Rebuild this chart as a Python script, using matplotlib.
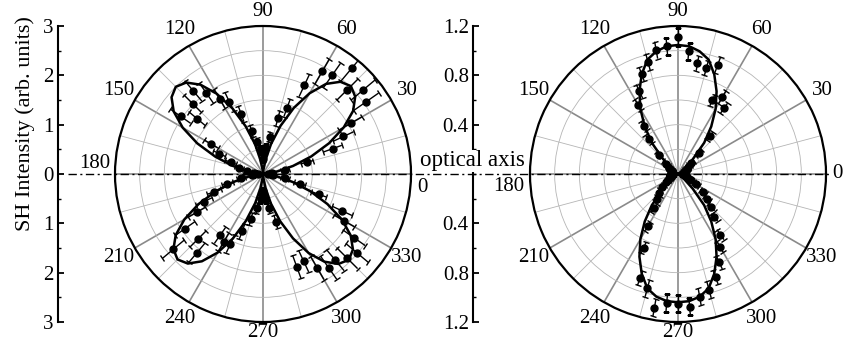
import numpy as np
import matplotlib
matplotlib.use("Agg")
import matplotlib.pyplot as plt
from matplotlib.lines import Line2D
from matplotlib.ticker import FixedLocator, FuncFormatter

plt.rcParams['font.family'] = ['Liberation Serif', 'DejaVu Serif']

# measured angles (deg), every 5 degrees
angles = np.arange(0, 360, 5)

# left panel: four-lobe pattern
left_r = [0.10, 0.18, 0.45, 0.92, 1.50, 1.80, 2.05, 2.55, 2.65, 2.42, 2.80, 2.44,
          2.40, 1.98, 1.43, 1.17, 0.76, 0.52, 0.30, 0.48, 0.65, 0.90, 1.30, 1.62,
          1.76, 2.00, 2.20, 2.02, 1.75, 2.04, 1.22, 0.98, 0.70, 0.50, 0.32, 0.18,
          0.10, 0.22, 0.45, 0.75, 1.05, 1.32, 1.55, 1.93, 2.37, 1.86, 2.08, 1.52,
          1.60, 1.56, 1.24, 0.95, 0.70, 0.50, 0.35, 0.50, 0.70, 1.00, 2.00, 1.95,
          2.20, 2.32, 2.28, 2.41, 2.49, 2.25, 1.90, 1.77, 1.20, 0.77, 0.45, 0.20]
left_err = [0.04, 0.05, 0.08, 0.13, 0.20, 0.23, 0.26, 0.31, 0.32, 0.30, 0.34, 0.30,
            0.29, 0.25, 0.19, 0.16, 0.11, 0.09, 0.06, 0.08, 0.10, 0.13, 0.17, 0.21,
            0.22, 0.25, 0.27, 0.25, 0.22, 0.25, 0.16, 0.14, 0.11, 0.09, 0.07, 0.05,
            0.04, 0.05, 0.08, 0.11, 0.15, 0.18, 0.20, 0.24, 0.29, 0.23, 0.26, 0.20,
            0.21, 0.20, 0.17, 0.13, 0.11, 0.09, 0.07, 0.09, 0.11, 0.14, 0.25, 0.24,
            0.27, 0.29, 0.28, 0.30, 0.30, 0.28, 0.24, 0.22, 0.16, 0.11, 0.08, 0.05]

# fitted curve, 0..360 deg every 5 deg
fit_angles = np.arange(0, 365, 5)
left_fit = [0.00, 0.08, 0.29, 0.63, 1.04, 1.48, 1.89, 2.23, 2.44, 2.52, 2.44, 2.23,
            1.89, 1.48, 1.04, 0.63, 0.29, 0.08,
            0.00, 0.08, 0.29, 0.63, 1.03, 1.47, 1.88, 2.21, 2.42, 2.50, 2.42, 2.21,
            1.88, 1.47, 1.03, 0.63, 0.29, 0.08,
            0.00, 0.07, 0.29, 0.61, 1.01, 1.44, 1.84, 2.16, 2.37, 2.45, 2.37, 2.16,
            1.84, 1.44, 1.01, 0.61, 0.29, 0.07,
            0.00, 0.07, 0.29, 0.62, 1.02, 1.44, 1.85, 2.17, 2.38, 2.46, 2.38, 2.17,
            1.85, 1.44, 1.02, 0.62, 0.29, 0.07, 0.00]

# right panel: two-lobe pattern
right_r = [0.05, 0.04, 0.06, 0.05, 0.07, 0.06, 0.08, 0.10, 0.14, 0.24, 0.40, 0.65,
           0.72, 0.66, 0.94, 0.89, 0.91, 1.00, 1.11, 1.04, 1.02, 0.94, 0.86, 0.74,
           0.65, 0.48, 0.37, 0.22, 0.13, 0.09, 0.07, 0.05, 0.06, 0.05, 0.06, 0.04,
           0.05, 0.06, 0.05, 0.07, 0.06, 0.08, 0.09, 0.12, 0.17, 0.22, 0.26, 0.34,
           0.49, 0.66, 0.90, 0.96, 1.10, 1.05, 1.05, 1.08, 1.01, 0.97, 0.89, 0.79,
           0.68, 0.60, 0.46, 0.38, 0.31, 0.25, 0.17, 0.12, 0.09, 0.07, 0.06, 0.05]
right_err = [0.02, 0.02, 0.02, 0.02, 0.02, 0.02, 0.02, 0.03, 0.03, 0.03, 0.04, 0.05,
             0.06, 0.05, 0.07, 0.06, 0.06, 0.07, 0.07, 0.07, 0.07, 0.07, 0.06, 0.06,
             0.05, 0.04, 0.04, 0.03, 0.03, 0.02, 0.02, 0.02, 0.02, 0.02, 0.02, 0.02,
             0.02, 0.02, 0.02, 0.02, 0.02, 0.02, 0.02, 0.03, 0.03, 0.03, 0.03, 0.04,
             0.04, 0.05, 0.06, 0.07, 0.07, 0.07, 0.07, 0.07, 0.07, 0.07, 0.06, 0.06,
             0.05, 0.05, 0.04, 0.04, 0.03, 0.03, 0.03, 0.03, 0.02, 0.02, 0.02, 0.02]
right_fit = [0.00, 0.00, 0.00, 0.00, 0.00, 0.00, 0.00, 0.02, 0.07, 0.17, 0.33, 0.47,
             0.61, 0.74, 0.86, 0.96, 1.01, 1.04, 1.046, 1.04, 1.01, 0.96, 0.86, 0.74,
             0.61, 0.47, 0.33, 0.17, 0.07, 0.02, 0.00, 0.00, 0.00, 0.00, 0.00, 0.00,
             0.00, 0.00, 0.00, 0.00, 0.00, 0.00, 0.00, 0.02, 0.07, 0.17, 0.33, 0.47,
             0.61, 0.74, 0.86, 0.96, 1.01, 1.035, 1.04, 1.035, 1.01, 0.96, 0.86, 0.74,
             0.61, 0.47, 0.33, 0.17, 0.07, 0.02, 0.00, 0.00, 0.00, 0.00, 0.00, 0.00, 0.00]

W, H = 846, 344
FS = 15


def polar_panel(fig, x0, rmax, rstep, r, err, fit, lbl0, lbl180):
    ax = fig.add_axes([x0 / W, 22 / H, 296 / W, 296 / H], projection='polar')
    ax.set_ylim(0, rmax)
    ax.set_yticks(np.arange(rstep, rmax - 1e-6, rstep))
    ax.set_yticklabels([])
    ax.set_xticks(np.deg2rad(np.arange(0, 360, 30)))
    ax.set_xticks(np.deg2rad(np.arange(15, 360, 30)), minor=True)
    ax.set_xticklabels([])
    ax.tick_params(axis='both', which='both', length=0)
    ax.xaxis.grid(True, which='major', color='#8a8a8a', lw=1.2)
    ax.xaxis.grid(True, which='minor', color='#b5b5b5', lw=0.6)
    ax.yaxis.grid(True, color='#b5b5b5', lw=0.6)
    ax.spines['polar'].set_linewidth(1.6)

    ax.errorbar(np.deg2rad(angles), r, yerr=err, fmt='o', color='k', ms=5,
                elinewidth=1, capsize=2.5, capthick=1, zorder=3)
    ax.plot(np.deg2rad(fit_angles), fit, color='k', lw=1.8, zorder=4)

    # angle labels
    for a in range(30, 360, 30):
        if a == 180:
            continue
        d = {90: 0.548, 270: 0.535}.get(a, 0.562)
        ax.text(0.5 + d * np.cos(np.deg2rad(a)), 0.5 + d * np.sin(np.deg2rad(a)),
                str(a), transform=ax.transAxes, ha='center', va='center', fontsize=FS)
    ax.text(lbl0[0], lbl0[1], '0', transform=ax.transAxes, ha='center', va='center', fontsize=FS)
    ax.text(lbl180[0], lbl180[1], '180', transform=ax.transAxes, ha='center', va='center', fontsize=FS)
    return ax


def scale_axis(fig, x, rmax, major, minor, fmt):
    sax = fig.add_axes([x / W, 22 / H, 0.02, 296 / H])
    sax.patch.set_visible(False)
    for s in ['top', 'right', 'bottom']:
        sax.spines[s].set_visible(False)
    sax.spines['left'].set_linewidth(1.5)
    sax.set_xticks([])
    sax.set_ylim(-rmax, rmax)
    sax.yaxis.set_major_locator(FixedLocator(major))
    sax.yaxis.set_minor_locator(FixedLocator(minor))
    sax.yaxis.set_major_formatter(FuncFormatter(lambda v, p: fmt % abs(v)))
    sax.tick_params(axis='y', which='major', direction='in', length=4, width=1.3,
                    labelsize=FS, pad=3)
    sax.tick_params(axis='y', which='minor', direction='in', length=2.5, width=1)
    return sax


fig = plt.figure(figsize=(W / 100, H / 100), dpi=100)

polar_panel(fig, 115, 3.0, 0.5, left_r, left_err, left_fit,
            (1.04, 0.453), (-0.068, 0.534))
polar_panel(fig, 530, 1.2, 0.2, right_r, right_err, right_fit,
            (1.04, 0.5), (-0.071, 0.459))

scale_axis(fig, 58, 3.0, [-3, -2, -1, 0, 1, 2, 3],
           np.arange(-2.5, 3, 1.0), '%d')
scale_axis(fig, 473, 1.2, [-1.2, -0.8, -0.4, 0.4, 0.8, 1.2],
           [-1.0, -0.6, -0.2, 0.0, 0.2, 0.6, 1.0], '%.1f')

yc = 1 - 174 / H
fig.add_artist(Line2D([68 / W, 830 / W], [yc, yc], transform=fig.transFigure,
                      color='k', lw=1.0, linestyle=(0, (6, 2.5, 1.5, 2.5))))

fig.text(472 / W, 1 - 161 / H, 'optical axis', ha='center', va='center', fontsize=16.5,
         bbox=dict(fc='white', ec='none', pad=0.5), zorder=5)
fig.text(25 / W, 1 - 124 / H, 'SH Intensity (arb. units)', rotation=90,
         ha='center', va='center', fontsize=16)

fig.savefig('out.png', dpi=100)
